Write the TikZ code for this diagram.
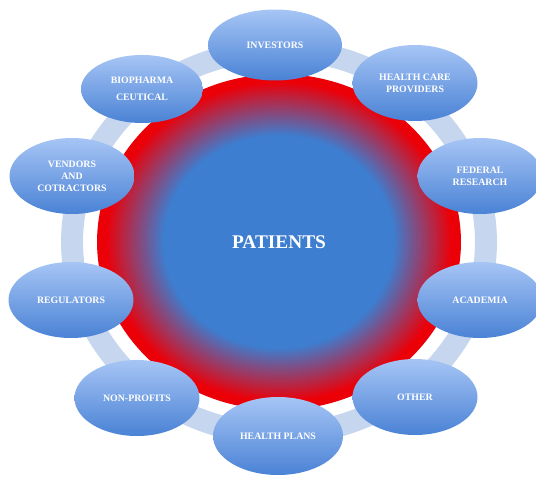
\documentclass[tikz,border=0pt]{standalone}
\usepackage{fontspec}
\setmainfont{Liberation Serif}
\usetikzlibrary{shapes.geometric}
\definecolor{ringblue}{HTML}{C6D6EF}
\definecolor{patblue}{HTML}{3D7ED0}
\definecolor{patred}{HTML}{EC0008}
\definecolor{nodetop}{HTML}{A6C5F5}
\definecolor{nodebottom}{HTML}{4A82D5}
\tikzset{
  stakeholder/.style={ellipse, top color=nodetop, bottom color=nodebottom, minimum width=2.5cm, minimum height=1.52cm, inner sep=0pt, align=center, text=white, font=\fontsize{5.6}{6.8}\selectfont\bfseries},
  patientsnode/.style={ellipse, fill=patred, minimum width=7.28cm, minimum height=6.72cm, inner sep=0pt, text=white, font=\fontsize{11}{13}\selectfont\bfseries}
}
\begin{document}
\begin{tikzpicture}[x=0.02cm, y=-0.02cm]
    \useasboundingbox (0,0) rectangle (536,476);
    % Ring
    \draw[ringblue, line width=0.44cm] (279,242) ellipse [x radius=4.14cm, y radius=3.84cm];
    % Centre, red fading into blue
    \node[patientsnode] (patients) at (279,242) {};
    \foreach \i [evaluate=\i as \pct using \i*2.5, evaluate=\i as \rr using 0.955-0.32*\i/40] in {0,...,40}
      \fill[patblue!\pct!patred] (patients.center) ellipse [x radius=\rr*3.64cm, y radius=\rr*3.36cm];
    \node[text=white, font=\fontsize{11}{13}\selectfont\bfseries] at (patients.center) {PATIENTS};
    % Nodes
    \node[stakeholder, minimum width=2.68cm, minimum height=1.42cm] (investors) at (275,45) {INVESTORS};
    \node[stakeholder] (providers) at (415,83) {HEALTH CARE\\PROVIDERS};
    \node[stakeholder] (federal) at (480,176) {FEDERAL\\RESEARCH};
    \node[stakeholder] (academia) at (480,300) {ACADEMIA};
    \node[stakeholder] (other) at (415,397) {OTHER};
    \node[stakeholder, minimum width=2.6cm, minimum height=1.56cm] (healthplans) at (278,436) {HEALTH PLANS};
    \node[stakeholder] (nonprofits) at (137,398) {NON-PROFITS};
    \node[stakeholder] (regulators) at (71,300) {REGULATORS};
    \node[stakeholder] (vendors) at (72,176) {VENDORS\\AND\\COTRACTORS};
    \node[stakeholder, minimum width=2.44cm, minimum height=1.36cm] (biopharma) at (142,89) {BIOPHARMA\\[3pt]CEUTICAL};
  \end{tikzpicture}
\end{document}
